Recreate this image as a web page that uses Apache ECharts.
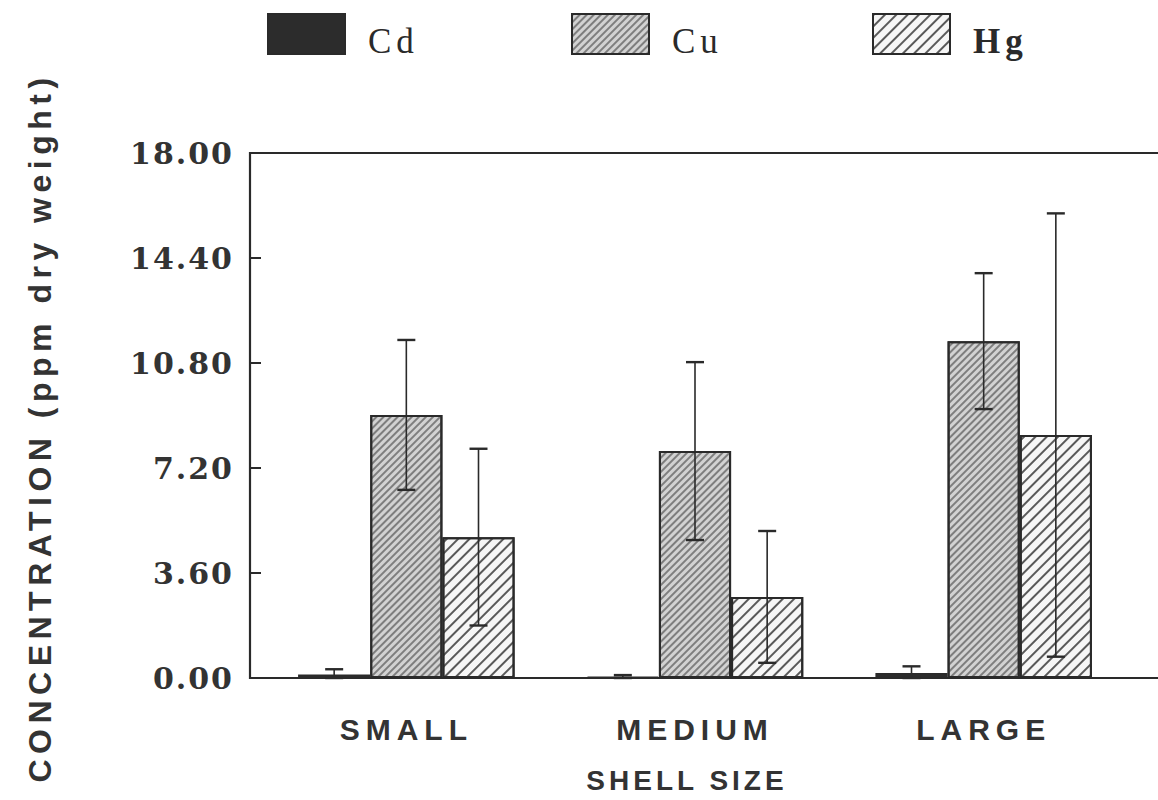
<!DOCTYPE html>
<html>
<head>
<meta charset="utf-8">
<title>Metal concentration by shell size</title>
<script src="https://cdn.jsdelivr.net/npm/echarts@6/dist/echarts.min.js"></script>
<style>
  html, body { margin: 0; padding: 0; background: #ffffff; }
  #chart { width: 1158px; height: 800px; }
  /* wide typewriter-like tracking for the labels */
  #chart text[style*="Arial"] { letter-spacing: 6px; }
  #chart text[style*="Helvetica"] { letter-spacing: 4px; }
  #chart text[style*="Nimbus Sans"] { letter-spacing: 5.5px; }
  #chart text[style*="Liberation Serif"] { letter-spacing: 5px; }
  #chart text[style*="DejaVu Serif"] { letter-spacing: 2px; }
</style>
</head>
<body>
<div id="chart"></div>
<script>
// Shell size classes
var categories = ['SMALL', 'MEDIUM', 'LARGE'];

// Mean concentrations (ppm dry weight) and their error ranges
var cdMean = [0.12, 0.05, 0.17];
var cdErr  = [0.18, 0.05, 0.23];
var cuMean = [9.02, 7.78, 11.55];
var cuErr  = [2.57, 3.05, 2.33];
var hgMean = [4.83, 2.78, 8.33];
var hgErr  = [3.03, 2.26, 7.60];

// Y axis tick values
var yTicks = [0, 3.6, 7.2, 10.8, 14.4, 18];

var INK = '#2a2a2a';
var SANS_CAT = "'Liberation Sans', Arial, sans-serif";
var SANS_XNAME = "'Liberation Sans', Helvetica, sans-serif";
var SANS_YNAME = "'Liberation Sans', 'Nimbus Sans', sans-serif";
var SERIF_TICK = "'DejaVu Serif', serif";
var SERIF_LEGEND = "'Liberation Serif', 'Times New Roman', serif";

var chart = echarts.init(document.getElementById('chart'), null, { renderer: 'svg' });

var BAR_SHARE = 0.25; // each bar takes a quarter of the category band

function errorBars(means, errs, slot) {
  return {
    type: 'custom',
    xAxisIndex: 0,
    yAxisIndex: 0,
    z: 10,
    silent: true,
    data: means.map(function (m, k) { return [k, m, errs[k]]; }),
    encode: { x: 0, y: 1 },
    renderItem: function (params, api) {
      var i = api.value(0), m = api.value(1), e = api.value(2);
      var band = api.size([1, 0])[0];
      var dx = slot * band * BAR_SHARE;
      var hi = api.coord([i, m + e]);
      var lo = api.coord([i, Math.max(0, m - e)]);
      var x = hi[0] + dx;
      var half = 9;
      return {
        type: 'group',
        children: [
          { type: 'line', shape: { x1: x, y1: hi[1], x2: x, y2: lo[1] }, style: { stroke: INK, lineWidth: 1.6 } },
          { type: 'line', shape: { x1: x - half, y1: hi[1], x2: x + half, y2: hi[1] }, style: { stroke: INK, lineWidth: 2.4 } },
          { type: 'line', shape: { x1: x - half, y1: lo[1], x2: x + half, y2: lo[1] }, style: { stroke: INK, lineWidth: 2.4 } }
        ]
      };
    }
  };
}

function legendAt(name, left, bold) {
  return {
    data: [name],
    left: left,
    top: 8,
    icon: 'rect',
    itemWidth: 77,
    itemHeight: 40,
    selectedMode: false,
    formatter: '{t|{name}}',
    textStyle: {
      color: INK,
      rich: {
        t: {
          fontFamily: SERIF_LEGEND,
          fontSize: 35,
          fontWeight: bold ? 'bold' : 'normal',
          color: INK,
          padding: [14, 0, 0, 18]
        }
      }
    }
  };
}

var option = {
  backgroundColor: '#ffffff',
  animation: false,
  legend: [
    legendAt('Cd', 262, false),
    legendAt('Cu', 566, false),
    legendAt('Hg', 867, true)
  ],
  grid: [
    { left: 262, right: 30, top: 153, bottom: 122, containLabel: false, outerBoundsMode: 'none' },
    // plot frame: left edge, top and bottom rules running off to the right
    { left: 250, width: 960, top: 153, bottom: 122, show: true, borderColor: INK, borderWidth: 2.2,
      backgroundColor: 'transparent', z: 3, outerBoundsMode: 'none' }
  ],
  xAxis: [
    {
      type: 'category',
      gridIndex: 0,
      data: categories,
      axisLine: { show: false },
      axisTick: { show: false },
      axisLabel: { margin: 36, fontFamily: SANS_CAT, fontSize: 30, fontWeight: 'bold', color: '#333' },
      name: 'SHELL SIZE',
      nameLocation: 'middle',
      nameGap: 88,
      nameTextStyle: { fontFamily: SANS_XNAME, fontSize: 28, fontWeight: 'bold', color: '#333', padding: [0, 16, 0, 0] }
    },
    { type: 'value', gridIndex: 1, show: false, min: 0, max: 1 }
  ],
  yAxis: [
    {
      type: 'value',
      gridIndex: 0,
      min: 0,
      max: 18,
      interval: 3.6,
      offset: 12,
      axisLine: { show: false },
      axisTick: { show: true, inside: true, length: 11, lineStyle: { color: INK, width: 2 } },
      splitLine: { show: false },
      axisLabel: {
        margin: 16,
        fontFamily: SERIF_TICK,
        fontSize: 30,
        fontWeight: 'bold',
        color: '#333',
        formatter: function (v) { return v.toFixed(2); },
        customValues: yTicks
      },
      name: 'CONCENTRATION (ppm dry weight)',
      nameLocation: 'middle',
      nameGap: 194,
      nameRotate: 90,
      nameTextStyle: { fontFamily: SANS_YNAME, fontSize: 32, fontWeight: 'bold', color: '#333', padding: [0, 24, 0, 0] }
    },
    { type: 'value', gridIndex: 1, show: false, min: 0, max: 1 }
  ],
  series: [
    {
      name: 'Cd', type: 'bar', data: cdMean,
      barGap: '0%', barCategoryGap: '25%',
      itemStyle: { color: '#2c2c2c', borderColor: INK, borderWidth: 1.5 }
    },
    {
      name: 'Cu', type: 'bar', data: cuMean,
      itemStyle: {
        color: '#d2d2d2', borderColor: INK, borderWidth: 2,
        decal: { symbol: 'rect', symbolSize: 1, color: 'rgba(70,70,70,0.6)', dashArrayX: [1, 0], dashArrayY: [1.1, 2.6], rotation: -Math.PI / 4 }
      }
    },
    {
      name: 'Hg', type: 'bar', data: hgMean,
      itemStyle: {
        color: '#f6f6f6', borderColor: INK, borderWidth: 2,
        decal: { symbol: 'rect', symbolSize: 1, color: 'rgba(50,50,50,0.8)', dashArrayX: [1, 0], dashArrayY: [1.2, 5.5], rotation: -Math.PI / 4 }
      }
    },
    errorBars(cdMean, cdErr, -1),
    errorBars(cuMean, cuErr, 0),
    errorBars(hgMean, hgErr, 1)
  ]
};

chart.setOption(option);
</script>
</body>
</html>
